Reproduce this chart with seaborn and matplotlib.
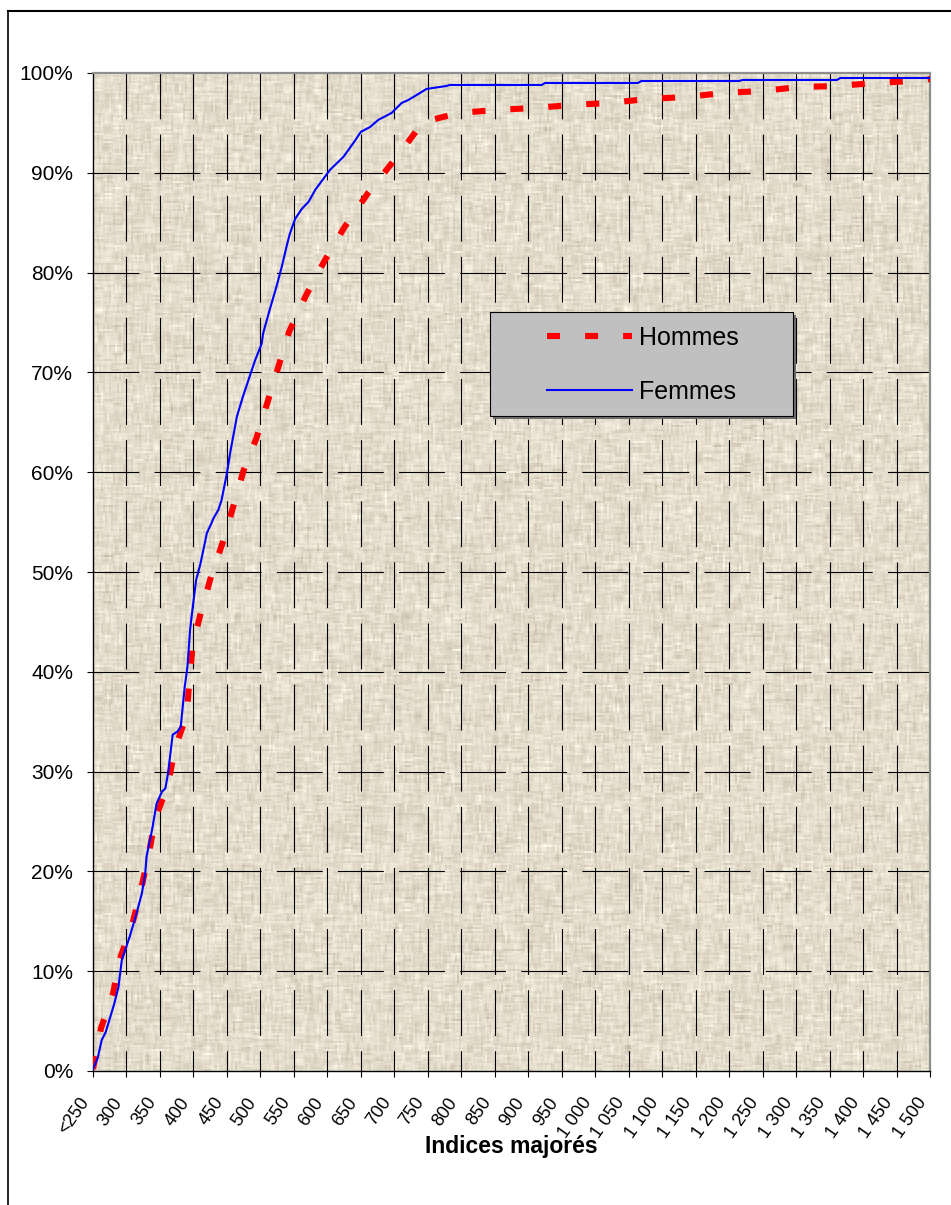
import numpy as np
import pandas as pd
import matplotlib
matplotlib.use("Agg")
import matplotlib.pyplot as plt
import seaborn as sns
from matplotlib.lines import Line2D
from matplotlib.patches import Rectangle
from matplotlib.ticker import PercentFormatter
from matplotlib.transforms import ScaledTranslation

# Cumulative share of staff by "indice majoré" (in %)
hommes_indice = [250, 262, 280, 290, 309, 322, 333, 343, 362, 372, 390, 394, 399, 412,
                 427, 445, 460, 475, 494, 511, 527, 543, 568, 596, 626, 661, 704, 743,
                 797, 853, 910, 966, 1022, 1078, 1137, 1191, 1249, 1305, 1362, 1418,
                 1474, 1500]
hommes_cumul = [0.2, 4.3, 7.8, 11.2, 14.8, 18.3, 21.6, 25.3, 28.7, 32.2, 35.7, 39.2, 42.7,
                46.2, 49.7, 53.2, 56.7, 60.2, 63.4, 67.1, 70.6, 74.1, 77.7, 81.2, 84.6,
                88.0, 91.6, 95.1, 96.0, 96.3, 96.5, 96.8, 97.0, 97.4, 97.6, 98.0, 98.2,
                98.6, 98.7, 99.0, 99.2, 99.4]

femmes_indice = [250, 257, 263, 269, 282, 288, 293, 298, 305, 315, 323, 328, 330, 338,
                 345, 353, 358, 362, 369, 376, 381, 387, 391, 395, 399, 404, 410, 417,
                 420, 427, 430, 437, 442, 450, 455, 465, 474, 484, 492, 502, 504, 514,
                 524, 532, 539, 544, 552, 562, 572, 582, 593, 604, 624, 639, 650, 664,
                 676, 696, 711, 721, 736, 748, 778, 783, 920, 925, 1064, 1069, 1215,
                 1220, 1361, 1366, 1500]
femmes_cumul = [0.2, 1.3, 3.1, 3.9, 6.8, 8.4, 11.1, 12.1, 13.5, 15.8, 17.8, 19.8, 21.5,
                24.1, 26.8, 28.0, 28.3, 29.8, 33.7, 34.0, 34.5, 38.5, 40.5, 44.2, 46.5,
                49.2, 50.7, 52.9, 53.9, 54.9, 55.4, 56.2, 57.2, 59.9, 62.0, 65.6, 67.6,
                69.6, 71.2, 72.9, 73.9, 76.3, 78.6, 80.6, 82.6, 83.9, 85.4, 86.4, 87.1,
                88.3, 89.3, 90.3, 91.6, 93.0, 94.1, 94.6, 95.3, 96.0, 97.0, 97.3, 97.9,
                98.4, 98.7, 98.8, 98.8, 99.0, 99.0, 99.2, 99.2, 99.3, 99.3, 99.5, 99.5]

x_ticks = list(range(250, 1501, 50))
x_tick_labels = ["<250", "300", "350", "400", "450", "500", "550", "600", "650", "700",
                 "750", "800", "850", "900", "950", "1 000", "1 050", "1 100", "1 150",
                 "1 200", "1 250", "1 300", "1 350", "1 400", "1 450", "1 500"]
y_ticks = list(range(0, 101, 10))
series_labels = ["Hommes", "Femmes"]

plt.rcParams["font.family"] = ["Liberation Sans", "DejaVu Sans"]
plt.rcParams["lines.scale_dashes"] = False

W_PX, H_PX = 951, 1205
fig = plt.figure(figsize=(W_PX / 100, H_PX / 100), dpi=100)
fig.patch.set_facecolor("white")
ax = fig.add_axes([93 / W_PX, (H_PX - 1071) / H_PX, 837 / W_PX, 998 / H_PX])

# Linen-like plot-area fill
rng = np.random.default_rng(11)
H, W = 998, 837


def streaks(rows, cols, rep_r, rep_c):
    a = rng.normal(size=(rows, cols))
    a = np.kron(a, np.ones((rep_r, rep_c)))
    return a[:H, :W]


def smooth(a, k, axis):
    kern = np.ones(k) / k
    return np.apply_along_axis(lambda v: np.convolve(v, kern, mode="same"), axis, a)


hor = smooth(streaks(H // 2 + 2, W // 10 + 2, 2, 10), 5, 1)
ver = smooth(streaks(H // 10 + 2, W // 2 + 2, 10, 2), 5, 0)
fine = rng.normal(size=(H, W))
tex = 0.6 * hor + 0.6 * ver + 0.3 * fine
base = np.array([0.895, 0.865, 0.800])
amp = np.array([0.038, 0.040, 0.044])
img = np.clip(base + tex[..., None] * amp, 0, 1)
ax.imshow(img, extent=(0, 1, 0, 1), transform=ax.transAxes, aspect="auto",
          interpolation="bilinear", zorder=0)

# Dashed grid, drawn top-down / left-right
grid_dash = (0, (33.0, 11.0))
ax.vlines(x_ticks[1:-1], 100, 0, colors="black", linewidth=0.8,
          linestyles=[grid_dash], zorder=1)
ax.hlines(y_ticks[1:-1], 250, 1500, colors="black", linewidth=0.8,
          linestyles=[grid_dash], zorder=1)

df_h = pd.DataFrame({"indice": hommes_indice, "cumul": hommes_cumul})
df_f = pd.DataFrame({"indice": femmes_indice, "cumul": femmes_cumul})

red_style = (0, (9.4, 18.0))
sns.lineplot(data=df_h, x="indice", y="cumul", ax=ax, color="#FF0000", linewidth=4.4,
             linestyle=red_style, estimator=None, sort=False, zorder=3)
sns.lineplot(data=df_f, x="indice", y="cumul", ax=ax, color="#0000FF", linewidth=1.5,
             estimator=None, sort=False, zorder=4)
for ln in ax.lines:
    ln.set_dash_capstyle("butt")

ax.set_xlim(250, 1500)
ax.set_ylim(0, 100)
ax.set_xticks(x_ticks)
ax.set_xticklabels(x_tick_labels, rotation=55, ha="right", va="center",
                   rotation_mode="anchor")
ax.set_yticks(y_ticks)
ax.yaxis.set_major_formatter(PercentFormatter(100, decimals=0))
ax.tick_params(axis="both", direction="out", length=4.3, width=0.8, color="black",
               labelsize=15, labelcolor="black")
ax.tick_params(axis="y", pad=10)
ax.tick_params(axis="x", pad=16, labelsize=13)
shift = ScaledTranslation(-0.07, 0, fig.dpi_scale_trans)
for lbl in ax.get_xticklabels():
    lbl.set_transform(lbl.get_transform() + shift)

for side in ("left", "bottom"):
    ax.spines[side].set_color("black")
    ax.spines[side].set_linewidth(1.0)
for side in ("top", "right"):
    ax.spines[side].set_color("#8e8e8e")
    ax.spines[side].set_linewidth(1.6)

ax.set_xlabel("Indices majorés", fontsize=16.5, fontweight="bold", va="center")
ax.set_ylabel("")
ax.xaxis.set_label_coords(0.5, -0.0752)

# Legend box with a thin shadow
bx0, bx1 = (490 - 93) / 837, (793 - 93) / 837
by0, by1 = (1071 - 416) / 998, (1071 - 312) / 998
ax.add_patch(Rectangle((bx0 + 3 / 837, by0 - 3 / 998), bx1 - bx0, by1 - by0,
                       transform=ax.transAxes, facecolor="#6e6e6e", edgecolor="none",
                       zorder=5))
ax.add_patch(Rectangle((bx0, by0), bx1 - bx0, by1 - by0, transform=ax.transAxes,
                       facecolor="#C0C0C0", edgecolor="black", linewidth=0.8, zorder=6))
handles = [Line2D([], [], color="#FF0000", linewidth=4.4, linestyle=red_style,
                  dash_capstyle="butt"),
           Line2D([], [], color="#0000FF", linewidth=1.5)]
leg = ax.legend(handles, series_labels, loc="center",
                bbox_to_anchor=((643 - 93) / 837, (1071 - 365) / 998),
                frameon=False, fontsize=18, handlelength=3.4, handletextpad=0.28,
                labelspacing=1.2, borderpad=0)
leg.set_zorder(7)

# Outer chart frame (left and top edges)
fig.add_artist(Line2D([8 / W_PX, 8 / W_PX], [0, 1 - 11 / H_PX], transform=fig.transFigure,
                      color="black", linewidth=1.2))
fig.add_artist(Line2D([8 / W_PX, 1], [1 - 11 / H_PX, 1 - 11 / H_PX],
                      transform=fig.transFigure, color="black", linewidth=1.5))

fig.savefig("out.png", dpi=100)
